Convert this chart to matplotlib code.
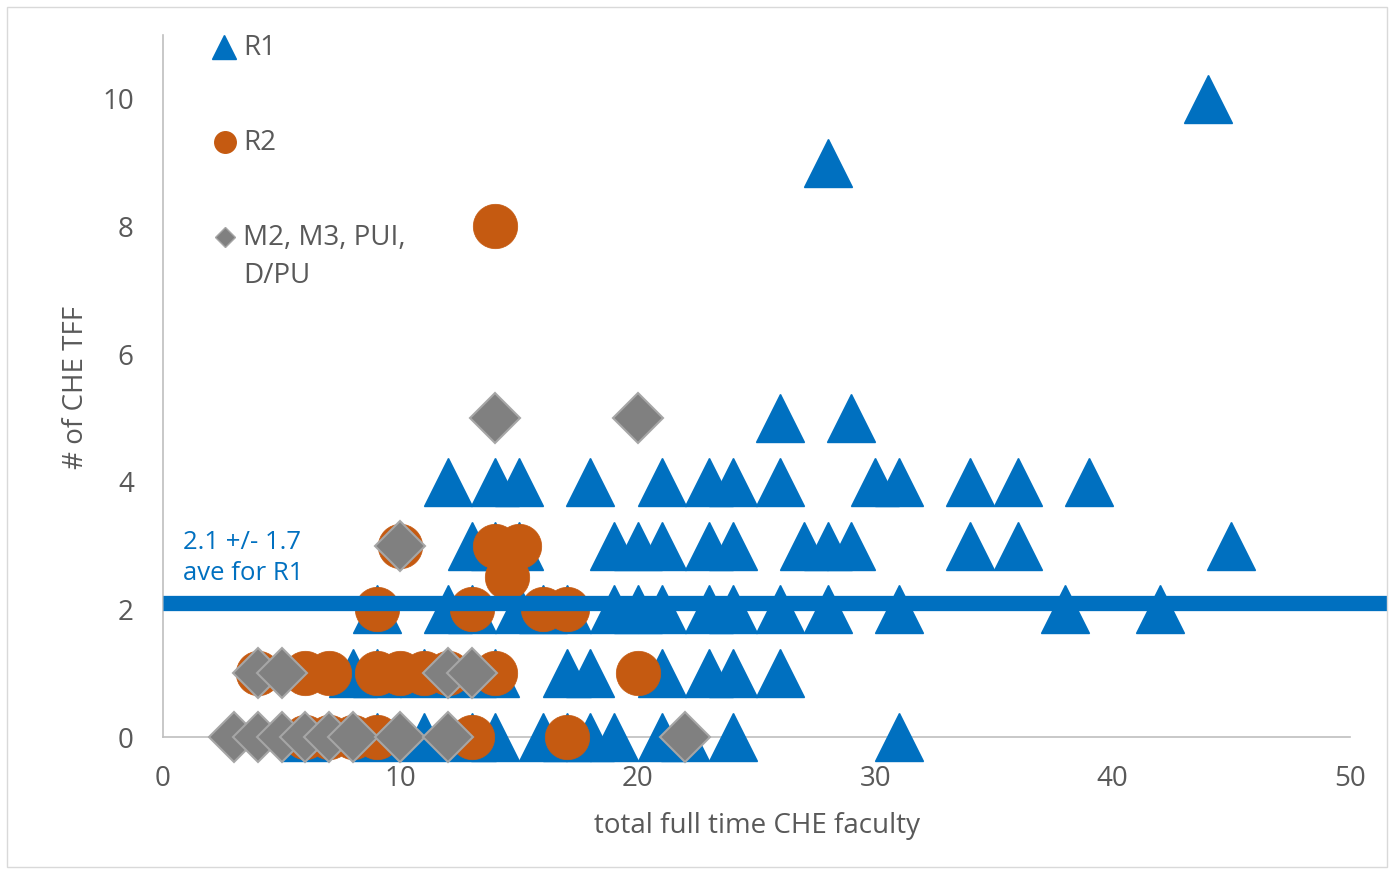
import matplotlib
matplotlib.use("Agg")
import matplotlib.pyplot as plt
from matplotlib.lines import Line2D
from matplotlib.patches import Rectangle

plt.rcParams['font.family'] = ['Open Sans', 'DejaVu Sans']

# R1 data (x = total full time CHE faculty, y = # of CHE TFF)
r1_x = [44, 28, 26, 29,
        12, 14, 15, 18, 21, 23, 24, 26, 30, 31, 34, 36, 39,
        13, 14, 15, 19, 20, 21, 23, 24, 27, 28, 29, 34, 36, 45,
        9, 12, 13, 15, 16, 17, 19, 20, 21, 23, 24, 26, 28, 31, 38, 42,
        8, 9, 11, 13, 14, 17, 18, 21, 23, 24, 26,
        6, 9, 11, 13, 14, 16, 17, 18, 19, 21, 22, 24, 31]
r1_y = [10, 9, 5, 5,
        4, 4, 4, 4, 4, 4, 4, 4, 4, 4, 4, 4, 4,
        3, 3, 3, 3, 3, 3, 3, 3, 3, 3, 3, 3, 3, 3,
        2, 2, 2, 2, 2, 2, 2, 2, 2, 2, 2, 2, 2, 2, 2, 2,
        1, 1, 1, 1, 1, 1, 1, 1, 1, 1, 1,
        0, 0, 0, 0, 0, 0, 0, 0, 0, 0, 0, 0, 0]

# R2 data
r2_x = [14, 10, 14, 15, 14.5, 9, 13, 16, 17,
        4, 6, 7, 9, 10, 11, 12, 14, 20,
        6, 7, 8, 9, 13, 17]
r2_y = [8, 3, 3, 3, 2.5, 2, 2, 2, 2,
        1, 1, 1, 1, 1, 1, 1, 1, 1,
        0, 0, 0, 0, 0, 0]

# M2, M3, PUI, D/PU data
m_x = [14, 20, 10, 4, 5, 12, 13, 3, 4, 5, 6, 7, 8, 10, 12, 22]
m_y = [5, 5, 3, 1, 1, 1, 1, 0, 0, 0, 0, 0, 0, 0, 0, 0]

r1_mean = 2.1
annot = "2.1 +/- 1.7\nave for R1"
series_names = ['R1', 'R2', 'M2, M3, PUI,\nD/PU']

blue = '#0070C0'
orange = '#C55A11'
gray = '#808080'
txt = '#595959'

W, H = 1395, 874
fig = plt.figure(figsize=(W/100, H/100), dpi=100)
ax = fig.add_axes([163/W, 1 - 737/H, (1350-163)/W, (737-35)/H])

ax.plot(r1_x, r1_y, linestyle='none', marker='^', markersize=34, color=blue,
        markeredgecolor=blue, markeredgewidth=1, clip_on=False, zorder=3)
ax.plot(r2_x, r2_y, linestyle='none', marker='o', markersize=32, color=orange,
        markeredgecolor=orange, markeredgewidth=0.5, clip_on=False, zorder=4)
ax.plot(m_x, m_y, linestyle='none', marker='D', markersize=25, color=gray,
        markeredgecolor='#A6A6A6', markeredgewidth=1.5, clip_on=False, zorder=5)

ax.axhline(r1_mean, xmin=0, xmax=(1387-163)/(1350-163), color=blue, linewidth=11,
           clip_on=False, zorder=6, solid_capstyle='butt')

ax.text(0.84, 2.8, annot, color=blue, fontsize=18.5, va='center', ha='left',
        linespacing=1.3, zorder=7)

ax.set_xlim(0, 50)
ax.set_ylim(0, 11)
ax.set_xticks(range(0, 51, 10))
ax.set_yticks(range(0, 11, 2))
ax.tick_params(axis='both', length=0, labelsize=20, colors=txt)
ax.tick_params(axis='x', pad=20)
ax.tick_params(axis='y', pad=21)
for s in ['top', 'right']:
    ax.spines[s].set_visible(False)
for s in ['left', 'bottom']:
    ax.spines[s].set_color('#BFBFBF')
    ax.spines[s].set_linewidth(1.2)

ax.set_xlabel('total full time CHE faculty', fontsize=20, color=txt)
ax.set_ylabel('# of CHE TFF', fontsize=20, color=txt)
ax.xaxis.set_label_coords((757-163)/(1350-163), -(812-737)/(737-35))
ax.yaxis.set_label_coords(-(163-90)/(1350-163), (737-387)/(737-35))

# manual legend (positions in figure pixels)
def fp(x, y):
    return x / W, 1 - y / H

leg_items = [('^', 17, blue, blue, 224, 47),
             ('o', 15.5, orange, orange, 225, 142),
             ('D', 10, gray, '#A6A6A6', 225, 237)]
for mk, ms, fc, ec, px, py in leg_items:
    fx, fy = fp(px, py)
    fig.add_artist(Line2D([fx], [fy], linestyle='none', marker=mk, markersize=ms,
                          color=fc, markeredgecolor=ec, transform=fig.transFigure))

fig.text(*fp(243, 48), series_names[0], fontsize=20, color=txt, va='center', ha='left')
fig.text(*fp(243, 143), series_names[1], fontsize=20, color=txt, va='center', ha='left')
l1, l2 = series_names[2].split('\n')
fig.text(*fp(243, 238), l1, fontsize=20, color=txt, va='center', ha='left')
fig.text(*fp(243, 276), l2, fontsize=20, color=txt, va='center', ha='left')

fig.patches.append(Rectangle((7/W, 1 - 867/H), 1380/W, 860/H,
                             transform=fig.transFigure, fill=False,
                             edgecolor='#D9D9D9', linewidth=1))

fig.savefig('out.png', dpi=100)
